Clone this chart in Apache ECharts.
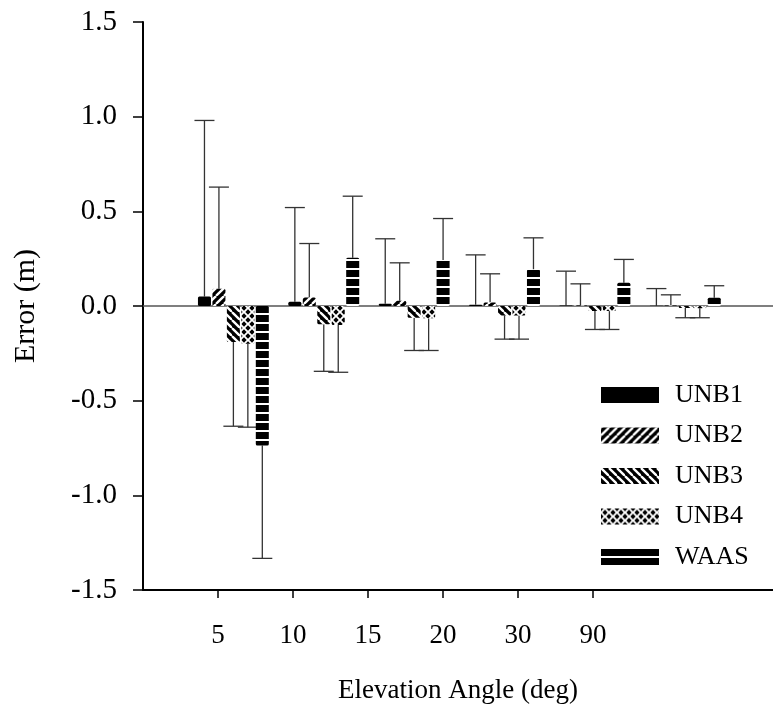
<!DOCTYPE html>
<html>
<head>
<meta charset="utf-8">
<script src="https://cdn.jsdelivr.net/npm/echarts@6/dist/echarts.min.js"></script>
<style>
  html, body { margin: 0; padding: 0; background: #fff; }
  #chart { width: 773px; height: 709px; }
</style>
</head>
<body>
<div id="chart"></div>
<script>
// Elevation-angle bins
const categories = ['5', '10', '15', '20', '30', '90'];
const seriesNames = ['UNB1', 'UNB2', 'UNB3', 'UNB4', 'WAAS'];

// Mean error per bin (m)
const unb1Mean = [0.050, 0.023, 0.012, 0.007, 0.002, 0.001];
const unb2Mean = [0.091, 0.045, 0.028, 0.018, 0.003, 0.002];
const unb3Mean = [-0.190, -0.097, -0.062, -0.050, -0.027, -0.010];
const unb4Mean = [-0.200, -0.100, -0.065, -0.050, -0.027, -0.012];
const waasMean = [-0.737, 0.255, 0.243, 0.193, 0.123, 0.043];

// Standard deviation per bin (m), drawn as one-sided error bars
const unb1Err = [0.930, 0.497, 0.343, 0.263, 0.182, 0.091];
const unb2Err = [0.537, 0.285, 0.200, 0.152, 0.114, 0.057];
const unb3Err = [0.445, 0.248, 0.173, 0.125, 0.097, 0.052];
const unb4Err = [0.440, 0.250, 0.170, 0.125, 0.097, 0.050];
const waasErr = [0.596, 0.325, 0.219, 0.167, 0.123, 0.064];

// Axis ticks
const yTicks = [-1.5, -1.0, -0.5, 0.0, 0.5, 1.0, 1.5];
const xTickPositions = [1, 2, 3, 4, 5, 6];

const means = [unb1Mean, unb2Mean, unb3Mean, unb4Mean, waasMean];
const errs = [unb1Err, unb2Err, unb3Err, unb4Err, waasErr];

const FONT = "'Liberation Serif', 'Times New Roman', serif";

// Repeating fill tiles for the bar hatching
function tile(w, h, draw) {
  const c = document.createElement('canvas');
  c.width = w; c.height = h;
  const g = c.getContext('2d');
  draw(g, w, h);
  return { image: c, repeat: 'repeat' };
}
const solidFill = '#000';
const slashFill = tile(8, 8, (g, w, h) => {
  g.fillStyle = '#000'; g.fillRect(0, 0, w, h);
  g.strokeStyle = '#fff'; g.lineWidth = 2.3;
  for (let k = -1; k <= 1; k++) {
    g.beginPath(); g.moveTo(k * w, h); g.lineTo(k * w + w, 0); g.stroke();
  }
});
const backslashFill = tile(8, 8, (g, w, h) => {
  g.fillStyle = '#000'; g.fillRect(0, 0, w, h);
  g.strokeStyle = '#fff'; g.lineWidth = 2.3;
  for (let k = -1; k <= 1; k++) {
    g.beginPath(); g.moveTo(k * w, 0); g.lineTo(k * w + w, h); g.stroke();
  }
});
const diamondFill = tile(8, 8, (g, w, h) => {
  g.fillStyle = '#fff'; g.fillRect(0, 0, w, h);
  g.fillStyle = '#000';
  const d = 2.7;
  [[4, 4], [0, 0], [8, 0], [0, 8], [8, 8]].forEach(([cx, cy]) => {
    g.beginPath();
    g.moveTo(cx, cy - d); g.lineTo(cx + d, cy); g.lineTo(cx, cy + d); g.lineTo(cx - d, cy);
    g.closePath(); g.fill();
  });
});
const stripeFill = tile(4, 9, (g, w, h) => {
  g.fillStyle = '#000'; g.fillRect(0, 0, w, h);
  g.fillStyle = '#fff'; g.fillRect(0, 7, w, 2);
});
const fills = [solidFill, slashFill, backslashFill, diamondFill, stripeFill];

// Bar with a one-sided error bar pointing away from zero
function makeRender(si) {
  return function (params, api) {
    const xi = api.value(0);
    const v = api.value(1);
    const e = api.value(2);
    const unit = api.size([1, 0])[0];
    const step = unit * 0.16;
    const bw = step * 0.9;
    const base = api.coord([xi, 0]);
    const cx = base[0] + (si - 2) * step;
    const y0 = base[1];
    const y1 = api.coord([xi, v])[1];
    const sign = v >= 0 ? 1 : -1;
    const yEnd = api.coord([xi, v + sign * e])[1];
    const capHalf = 10;
    const errStyle = { stroke: '#333', lineWidth: 1.3 };
    return {
      type: 'group',
      children: [
        {
          type: 'line',
          shape: { x1: cx, y1: y1, x2: cx, y2: yEnd },
          style: errStyle
        },
        {
          type: 'line',
          shape: { x1: cx - capHalf, y1: yEnd, x2: cx + capHalf, y2: yEnd },
          style: errStyle
        },
        {
          type: 'rect',
          shape: { x: cx - bw / 2, y: Math.min(y0, y1), width: bw, height: Math.abs(y1 - y0), r: 1.5 },
          style: { fill: fills[si] }
        }
      ]
    };
  };
}

const series = seriesNames.map((name, si) => ({
  name: name,
  type: 'custom',
  xAxisIndex: 1,
  yAxisIndex: 0,
  renderItem: makeRender(si),
  itemStyle: { color: fills[si] },
  encode: { x: 0, y: 1 },
  data: categories.map((c, i) => [i + 1, means[si][i], errs[si][i]]),
  z: 3
}));

// Zero reference line across the plot
series[0].markLine = {
  silent: true,
  symbol: ['none', 'none'],
  label: { show: false },
  lineStyle: { color: '#555', width: 1.5, type: 'solid' },
  data: [{ yAxis: 0 }],
  z: 2
};

const chart = echarts.init(document.getElementById('chart'), null, { renderer: 'canvas' });
chart.setOption({
  animation: false,
  backgroundColor: '#fff',
  textStyle: { fontFamily: FONT, color: '#000' },
  grid: { left: 143, top: 22, right: 0, bottom: 119, containLabel: false },
  legend: {
    orient: 'vertical',
    left: 601,
    top: 382,
    padding: 0,
    itemWidth: 58,
    itemHeight: 16,
    itemGap: 14.5,
    symbolKeepAspect: true,
    textStyle: { fontFamily: FONT, fontSize: 26, color: '#000', padding: [0, 0, 0, 11] },
    data: [
      { name: 'UNB1', icon: 'rect' },
      { name: 'UNB2', icon: 'rect' },
      { name: 'UNB3', icon: 'rect' },
      { name: 'UNB4', icon: 'rect' },
      { name: 'WAAS', icon: 'path://M0,0H58V7H0Z M0,9H58V16H0Z', itemStyle: { color: '#000' } }
    ]
  },
  xAxis: [
    {
      type: 'value',
      min: 0,
      max: 8.4,
      name: 'Elevation Angle (deg)',
      nameLocation: 'middle',
      nameGap: 87,
      nameTextStyle: { fontFamily: FONT, fontSize: 27, color: '#000' },
      axisLine: { show: true, onZero: false, lineStyle: { color: '#000', width: 2 } },
      axisTick: { show: true, length: 8, customValues: xTickPositions, lineStyle: { color: '#000', width: 1.5 } },
      axisLabel: {
        customValues: xTickPositions,
        margin: 32,
        fontFamily: FONT, fontSize: 27, color: '#000',
        formatter: v => categories[Math.round(v) - 1] || ''
      },
      splitLine: { show: false }
    },
    {
      type: 'value',
      min: 0,
      max: 6.97,
      show: false
    }
  ],
  yAxis: {
    type: 'value',
    min: yTicks[0],
    max: yTicks[yTicks.length - 1],
    interval: 0.5,
    name: 'Error (m)',
    nameLocation: 'middle',
    nameGap: 102,
    nameTextStyle: { fontFamily: FONT, fontSize: 30, color: '#000' },
    axisLine: { show: true, onZero: false, lineStyle: { color: '#000', width: 2 } },
    axisTick: { show: true, length: 10, lineStyle: { color: '#000', width: 1.5 } },
    axisLabel: {
      margin: 26,
      fontFamily: FONT, fontSize: 29, color: '#000',
      formatter: v => v.toFixed(1)
    },
    splitLine: { show: false }
  },
  series: series
});
</script>
</body>
</html>
